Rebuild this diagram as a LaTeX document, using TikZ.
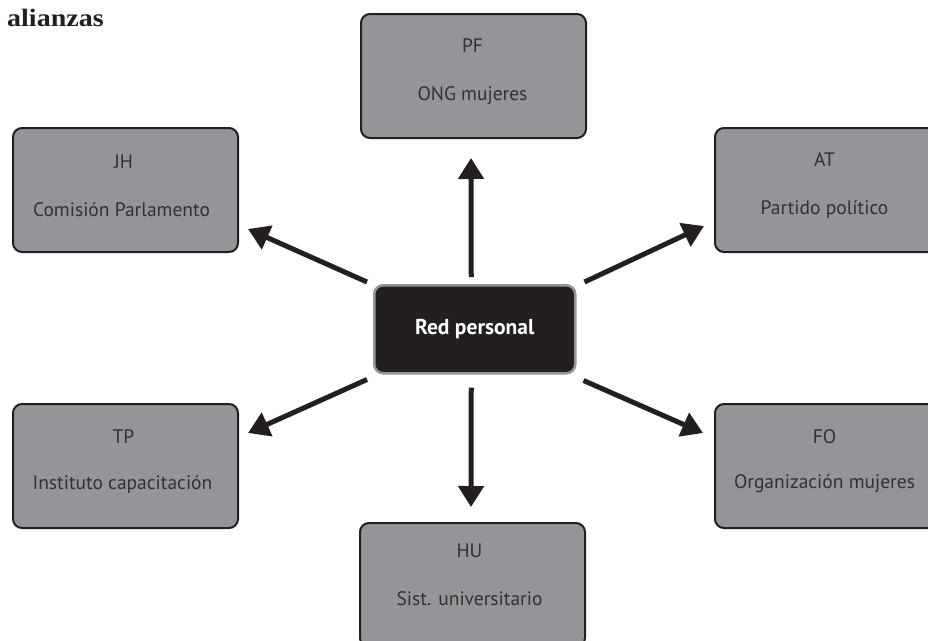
\documentclass[tikz,border=0pt]{standalone}
\usepackage{fontspec}
\setmainfont{PT Sans}
\newfontfamily\titlefont{Liberation Serif}
\usetikzlibrary{arrows.meta}
\definecolor{boxgray}{HTML}{939598}
\definecolor{ink}{HTML}{231F20}
\definecolor{txt}{HTML}{333132}
\tikzset{
  x=1pt, y=-1pt,
  graybox/.style={draw=ink, line width=2pt, fill=boxgray, rounded corners=9pt,
    minimum width=225pt, minimum height=124pt, inner sep=0pt, anchor=north west},
  centerbox/.style={draw=boxgray, line width=2.5pt, fill=ink, rounded corners=9pt,
    minimum width=201pt, minimum height=88pt, inner sep=0pt, anchor=north west,
    text=white, font=\fontsize{21.5}{25}\selectfont\bfseries},
  codelbl/.style={text=txt, font=\fontsize{19.5}{23}\selectfont, inner sep=0pt},
  desclbl/.style={text=txt, font=\fontsize{19.5}{23}\selectfont, inner sep=0pt},
  arr/.style={draw=ink, line width=5pt, -{Triangle[length=21pt,width=25pt]}}
}
\begin{document}
\begin{tikzpicture}
\useasboundingbox (0,0) rectangle (928,640);
\clip (0,0) rectangle (928,640);
\node[anchor=base west, inner sep=0pt, text=ink, font=\titlefont\fontsize{25}{29}\selectfont\bfseries] (title) at (7,26) {\scalebox{1.12}[1]{alianzas}};

\node[graybox] (pf) at (360,13) {};
\node[graybox] (jh) at (12,127) {};
\node[graybox] (at) at (714,127) {};
\node[graybox] (tp) at (12,403) {};
\node[graybox] (fo) at (714,403) {};
\node[graybox] (hu) at (359,522) {};
\node[centerbox] (c) at (373,284) {Red personal};

\node[codelbl] (pf1) at ([shift={(-1,-30)}]pf.center) {PF};
\node[desclbl] (pf2) at ([shift={(-1,20)}]pf.center) {ONG mujeres};
\node[codelbl] (jh1) at ([shift={(-2,-28)}]jh.center) {JH};
\node[desclbl] (jh2) at ([shift={(-4,20)}]jh.center) {Comisión Parlamento};
\node[codelbl] (at1) at ([shift={(-3,-30)}]at.center) {AT};
\node[desclbl] (at2) at ([shift={(-3,19)}]at.center) {Partido político};
\node[codelbl] (tp1) at ([shift={(-2,-29)}]tp.center) {TP};
\node[desclbl] (tp2) at ([shift={(-3,18)}]tp.center) {Instituto capacitación};
\node[codelbl] (fo1) at ([shift={(-3,-29)}]fo.center) {FO};
\node[desclbl] (fo2) at ([shift={(-3,18)}]fo.center) {Organización mujeres};
\node[codelbl] (hu1) at ([shift={(-3,-34)}]hu.center) {HU};
\node[desclbl] (hu2) at ([shift={(-3,14)}]hu.center) {Sist. universitario};

\draw[arr] ([shift={(-3.5,-7)}]c.north) -- ([shift={(-2.5,19)}]pf.south);
\draw[arr] ([shift={(-3.5,13)}]c.south) -- ([shift={(-1.5,-15)}]hu.north);
\draw[arr] ([shift={(-6,-2)}]c.north west) -- ([shift={(9,-24)}]jh.south east);
\draw[arr] ([shift={(8,-2)}]c.north east) -- ([shift={(-10,-27)}]at.south west);
\draw[arr] ([shift={(-6,5)}]c.south west) -- ([shift={(9,30)}]tp.north east);
\draw[arr] ([shift={(7,6)}]c.south east) -- ([shift={(-11,30)}]fo.north west);
\end{tikzpicture}
\end{document}
